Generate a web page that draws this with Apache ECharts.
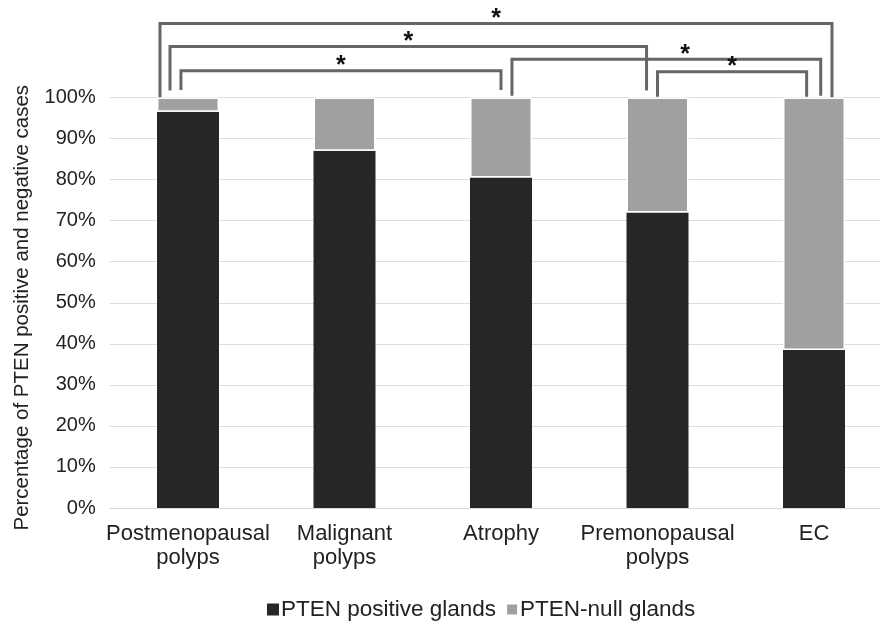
<!DOCTYPE html>
<html>
<head>
<meta charset="utf-8">
<script src="https://cdn.jsdelivr.net/npm/echarts@6/dist/echarts.min.js"></script>
<style>
html,body{margin:0;padding:0;background:#fff;}
#chart{width:880px;height:621px;}
</style>
</head>
<body>
<div id="chart"></div>
<script>
const categories = ['Postmenopausal\npolyps', 'Malignant\npolyps', 'Atrophy', 'Premonopausal\npolyps', 'EC'];
const ptenPositive = [96.5, 87, 80.5, 72, 38.5];
const ptenNull = [3.5, 13, 19.5, 28, 61.5];
const seriesNames = ['PTEN positive glands', 'PTEN-null glands'];
const yTickLabels = ['0%', '10%', '20%', '30%', '40%', '50%', '60%', '70%', '80%', '90%', '100%'];

// significance brackets: from category, to category, bracket level (%), leg end level (%)
const bracketFrom = [0, 0, 0, 2, 3];
const bracketTo = [4, 3, 2, 4, 4];
const bracketLevel = [118, 112.4, 106.5, 109.3, 106.3];
const bracketLegEnd = [100, 101.7, 101.8, 100.4, 100.2];
const bracketLabel = ['*', '*', '*', '*', '*'];
// style offsets of bracket legs (fraction of category band) and star shift (fraction)
const legOffsetFrom = [-0.179, -0.115, -0.045, 0.07, 0];
const legOffsetTo = [0.115, -0.07, 0, 0.043, -0.047];
const starShift = [0, 0, 0, 0.12, 0];

const FONT = 'Liberation Sans, Arial, sans-serif';
const chart = echarts.init(document.getElementById('chart'));

const bracketData = bracketFrom.map((f, i) => [f, bracketTo[i], bracketLevel[i], bracketLegEnd[i], legOffsetFrom[i], legOffsetTo[i], starShift[i]]);

chart.setOption({
  animation: false,
  backgroundColor: '#fff',
  grid: {left: 109.75, width: 782.5, top: 97.5, bottom: 113, containLabel: false, outerBoundsMode: 'none'},
  legend: {
    top: 593,
    left: 262,
    itemWidth: 12, itemHeight: 12, itemGap: 9,
    icon: 'rect',
    textStyle: {fontFamily: FONT, fontSize: 22.5, color: '#222', padding: [0, 0, 0, -3]},
    data: seriesNames
  },
  xAxis: {
    type: 'category',
    data: categories,
    axisLine: {show: true, lineStyle: {color: '#d9d9d9', width: 1}},
    axisTick: {show: false},
    axisLabel: {fontFamily: FONT, fontSize: 22, color: '#222', lineHeight: 24, margin: 14, interval: 0}
  },
  yAxis: {
    type: 'value',
    min: 0, max: 100, interval: 10,
    axisLine: {show: false},
    axisTick: {show: false},
    splitLine: {lineStyle: {color: '#dedede', width: 1}},
    axisLabel: {fontFamily: FONT, fontSize: 20, color: '#222', margin: 14,
      formatter: v => yTickLabels[Math.round(v / 10)]},
    name: 'Percentage of PTEN positive and negative cases',
    nameLocation: 'middle',
    nameGap: 77,
    nameTextStyle: {fontFamily: FONT, fontSize: 20.5, color: '#222', padding: [0, 10, 0, 0]}
  },
  series: [
    {
      name: seriesNames[0], type: 'bar', stack: 's', data: ptenPositive, barWidth: 62,
      itemStyle: {color: '#262626'}
    },
    {
      name: seriesNames[1], type: 'bar', stack: 's', data: ptenNull, barWidth: 62,
      itemStyle: {color: '#a0a0a0', borderColor: '#fff', borderWidth: 1.5}
    },
    {
      type: 'custom',
      clip: false,
      silent: true,
      encode: {x: 0, y: 2},
      data: bracketData,
      renderItem: function (params, api) {
        const f = api.value(0), t = api.value(1), lvl = api.value(2), leg = api.value(3);
        const of = api.value(4), ot = api.value(5), ss = api.value(6);
        const bw = api.size([1, 0])[0];
        const x1 = api.coord([f, lvl])[0] + of * bw;
        const x2 = api.coord([t, lvl])[0] + ot * bw;
        const y = api.coord([f, lvl])[1];
        const yb = api.coord([f, leg])[1];
        const xs = (x1 + x2) / 2 + ss * bw;
        return {
          type: 'group',
          children: [
            {type: 'polyline', shape: {points: [[x1, yb], [x1, y], [x2, y], [x2, yb]]},
             style: {stroke: '#666', lineWidth: 3, fill: null, lineJoin: 'miter'}},
            {type: 'text', x: xs, y: y + 8,
             style: {text: bracketLabel[params.dataIndex], fontFamily: FONT, fontSize: 25, fontWeight: 'bold',
                     fill: '#111', align: 'center', verticalAlign: 'bottom'}}
          ]
        };
      }
    }
  ]
});
</script>
</body>
</html>
